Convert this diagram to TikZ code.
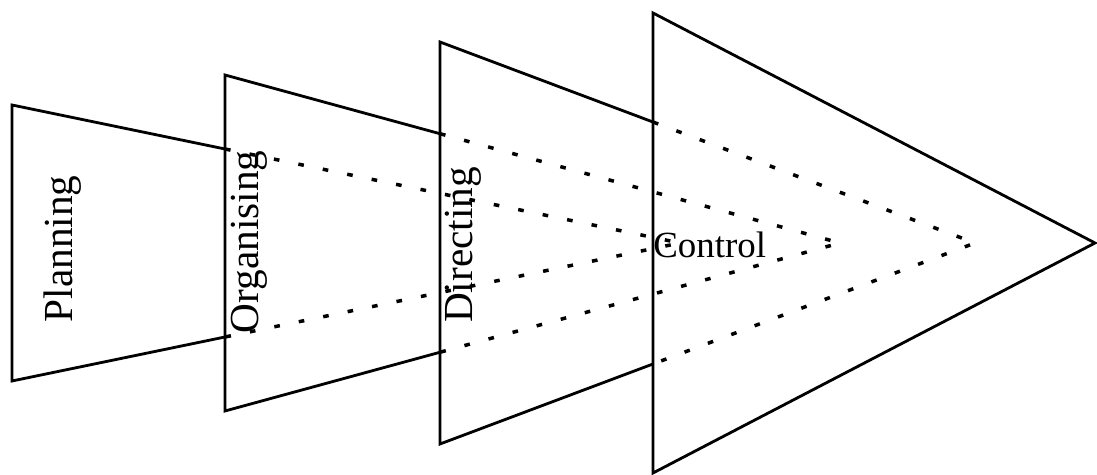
\documentclass[tikz,border=0pt]{standalone}
\usepackage{fontspec}
\setmainfont{Liberation Serif}
\usetikzlibrary{calc}

\tikzset{
  edge/.style={line width=1.6pt, line join=miter},
  hidden/.style={line width=2pt, dash pattern=on 3.2pt off 11pt},
  stage/.style={font=\fontsize{23.5}{28}\selectfont, rotate=90, inner sep=0pt},
}

\begin{document}
\begin{tikzpicture}[x=0.02cm, y=0.02cm]
        \useasboundingbox (0,0) rectangle (1097,475);

        % Planning: left edge and tip
        \coordinate (pl-t) at (12,370);
        \coordinate (pl-b) at (12,94);
        \coordinate (pl-tip) at (680,232);
        \coordinate (pl-tc) at ($(pl-t)!0.3189!(pl-tip)$);
        \coordinate (pl-bc) at ($(pl-b)!0.3189!(pl-tip)$);
        \draw[edge] (pl-tc) -- (pl-t) -- (pl-b) -- (pl-bc);
        \draw[hidden] (pl-tc) -- (pl-tip) -- (pl-bc);

        % Organising
        \coordinate (or-t) at (225,400);
        \coordinate (or-b) at (225,64);
        \coordinate (or-tip) at (840,232);
        \coordinate (or-tc) at ($(or-t)!0.3496!(or-tip)$);
        \coordinate (or-bc) at ($(or-b)!0.3496!(or-tip)$);
        \draw[edge] (or-tc) -- (or-t) -- (or-b) -- (or-bc);
        \draw[hidden] (or-tc) -- (or-tip) -- (or-bc);

        % Directing
        \coordinate (di-t) at (440,433);
        \coordinate (di-b) at (440,31);
        \coordinate (di-tip) at (975,232);
        \coordinate (di-tc) at ($(di-t)!0.3981!(di-tip)$);
        \coordinate (di-bc) at ($(di-b)!0.3981!(di-tip)$);
        \draw[edge] (di-tc) -- (di-t) -- (di-b) -- (di-bc);
        \draw[hidden] (di-tc) -- (di-tip) -- (di-bc);

        % Control: the whole triangle
        \coordinate (co-t) at (653,462);
        \coordinate (co-b) at (653,2);
        \coordinate (co-tip) at (1095,232);
        \draw[edge] (co-t) -- (co-tip) -- (co-b) -- cycle;

        % labels
        \node[stage] (planning) at (63,226) {Planning};
        \node[stage] (organising) at (249,233) {Organising};
        \node[stage] (directing) at (463,230) {Directing};
        \node[anchor=west, inner sep=0pt, font=\fontsize{21}{25}\selectfont]
            (control) at (653,230) {Control};
\end{tikzpicture}
\end{document}
